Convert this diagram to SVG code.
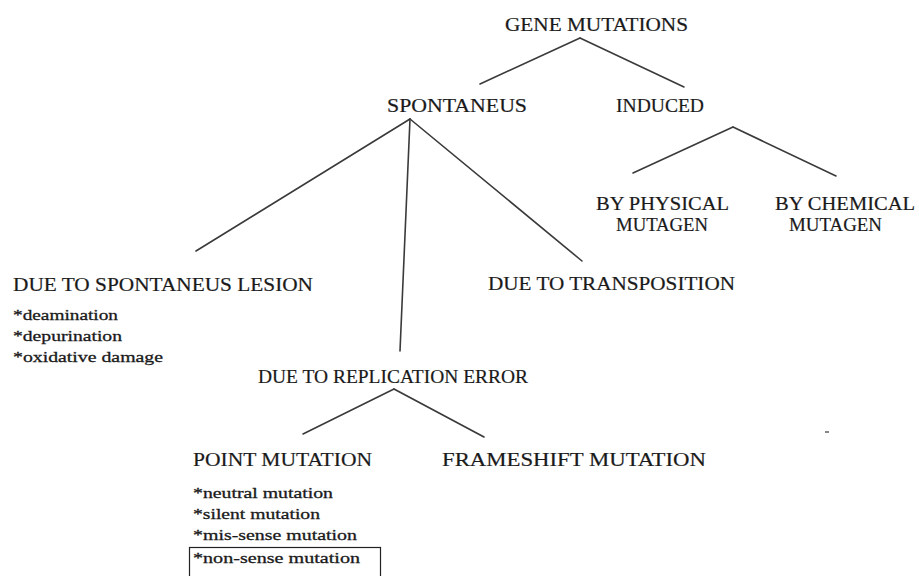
<svg xmlns="http://www.w3.org/2000/svg" width="919" height="576" viewBox="0 0 919 576">
<style>
.h{font-size:19px;stroke:#1a1a1a;stroke-width:0.2}
.b{font-size:15.5px;stroke:#1a1a1a;stroke-width:0.3}
.c line{stroke:#3a3a3a;stroke-width:1.6;stroke-linecap:round}
</style>
<rect width="919" height="576" fill="#fff"/>
<g class="c" id="connectors">
<line x1="580" y1="38" x2="480" y2="84"/>
<line x1="580" y1="38" x2="684" y2="87"/>
<line x1="733" y1="127" x2="633" y2="173"/>
<line x1="733" y1="127" x2="836" y2="176"/>
<line x1="410" y1="119" x2="196" y2="251"/>
<line x1="410" y1="119" x2="400" y2="351"/>
<line x1="410" y1="119" x2="582" y2="261"/>
<line x1="394" y1="389" x2="303" y2="434"/>
<line x1="394" y1="389" x2="484" y2="437"/>
</g>
<g font-family="Liberation Serif, serif" fill="#1a1a1a">
<g id="gene-mutations"><text class="h" x="505" y="31" textLength="183" lengthAdjust="spacingAndGlyphs">GENE MUTATIONS</text></g>
<g id="spontaneus"><text class="h" x="387" y="112" textLength="140" lengthAdjust="spacingAndGlyphs">SPONTANEUS</text></g>
<g id="induced"><text class="h" x="616" y="112" textLength="88" lengthAdjust="spacingAndGlyphs">INDUCED</text></g>
<g id="physical"><text class="h" x="596" y="210" textLength="133" lengthAdjust="spacingAndGlyphs">BY PHYSICAL</text><text class="h" x="616" y="231" textLength="92" lengthAdjust="spacingAndGlyphs">MUTAGEN</text></g>
<g id="chemical"><text class="h" x="775" y="210" textLength="140" lengthAdjust="spacingAndGlyphs">BY CHEMICAL</text><text class="h" x="789" y="231" textLength="93" lengthAdjust="spacingAndGlyphs">MUTAGEN</text></g>
<g id="lesion"><text class="h" x="13" y="291" textLength="300" lengthAdjust="spacingAndGlyphs">DUE TO SPONTANEUS LESION</text>
<text class="b" x="13" y="320" textLength="105" lengthAdjust="spacingAndGlyphs">*deamination</text>
<text class="b" x="13" y="341" textLength="109" lengthAdjust="spacingAndGlyphs">*depurination</text>
<text class="b" x="13" y="362" textLength="150" lengthAdjust="spacingAndGlyphs">*oxidative damage</text></g>
<g id="transposition"><text class="h" x="488" y="290" textLength="247" lengthAdjust="spacingAndGlyphs">DUE TO TRANSPOSITION</text></g>
<g id="replication"><text class="h" x="258" y="383" textLength="270" lengthAdjust="spacingAndGlyphs">DUE TO REPLICATION ERROR</text></g>
<g id="point"><text class="h" x="193" y="466" textLength="179" lengthAdjust="spacingAndGlyphs">POINT MUTATION</text>
<text class="b" x="193" y="498" textLength="140" lengthAdjust="spacingAndGlyphs">*neutral mutation</text>
<text class="b" x="193" y="519" textLength="127" lengthAdjust="spacingAndGlyphs">*silent mutation</text>
<text class="b" x="193" y="540" textLength="164" lengthAdjust="spacingAndGlyphs">*mis-sense mutation</text>
<rect x="189.5" y="547.5" width="191" height="32" fill="none" stroke="#222" stroke-width="1.2"/>
<text class="b" x="193" y="563" textLength="167" lengthAdjust="spacingAndGlyphs">*non-sense mutation</text></g>
<g id="frameshift"><text class="h" x="442" y="466" textLength="264" lengthAdjust="spacingAndGlyphs">FRAMESHIFT MUTATION</text></g>
</g>
<rect x="825" y="431" width="4" height="2" fill="#888"/>
</svg>
